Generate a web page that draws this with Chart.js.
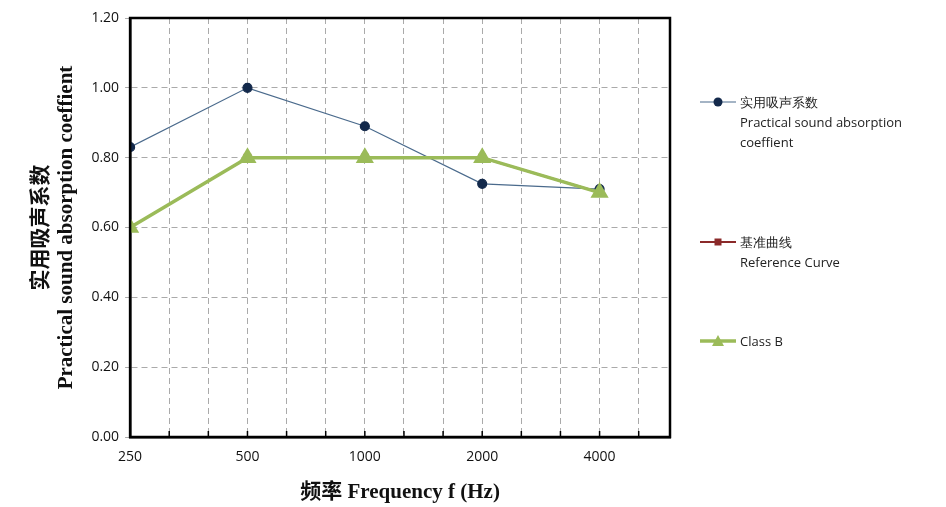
<!DOCTYPE html>
<html><head><meta charset="utf-8">
<script src="https://cdn.jsdelivr.net/npm/chart.js@4"></script>
<style>
body{margin:0;background:#fff;}
#wrap{position:relative;width:946px;height:507px;}
.leg{position:absolute;left:700px;font-family:"Open Sans","DejaVu Sans",sans-serif;font-size:13px;color:#222;line-height:20px;}
.leg .mk{position:absolute;left:0;top:3px;width:36px;height:14px;}
.leg .tx{margin-left:40px;}
</style></head><body>
<div id="wrap">
<canvas id="c" width="946" height="507"></canvas>
<div class="leg" style="top:92px"><canvas class="mk" id="m0" width="36" height="14"></canvas><div class="tx">实用吸声系数<br>Practical sound absorption<br>coeffient</div></div>
<div class="leg" style="top:232px"><canvas class="mk" id="m1" width="36" height="14"></canvas><div class="tx">基准曲线<br>Reference Curve</div></div>
<div class="leg" style="top:331px"><canvas class="mk" id="m2" width="36" height="14"></canvas><div class="tx">Class B</div></div>
</div>
<script>
const categories = ["250", "500", "1000", "2000", "4000"];
const practical = [0.83, 1.00, 0.89, 0.725, 0.71];
const reference = [0.60, 0.80, 0.80, 0.80, 0.70];
const classB = [0.60, 0.80, 0.80, 0.80, 0.70];

const toPts = arr => arr.map((v, i) => ({x: i, y: v}));

const ctx = document.getElementById("c").getContext("2d");
new Chart(ctx, {
  type: "line",
  data: {
    datasets: [
      {label: "实用吸声系数", data: toPts(practical), borderColor: "#4a6a8c", backgroundColor: "#13294b", order: 2,
       pointBackgroundColor: "#13294b", pointBorderColor: "#13294b", borderWidth: 1.2, pointRadius: 4.5, pointStyle: "circle"},
      {label: "基准曲线", data: toPts(reference), borderColor: "#8b2a2a", backgroundColor: "#8b2a2a", order: 3,
       borderWidth: 2, pointRadius: 4, pointStyle: "rect"},
      {label: "Class B", data: toPts(classB), borderColor: "#9bbb59", backgroundColor: "#9bbb59", order: 1,
       borderWidth: 3.5, pointRadius: 7, pointStyle: "triangle"}
    ]
  },
  options: {
    responsive: false,
    animation: false,
    layout: {padding: {left: 25, right: 276, top: 18, bottom: 2}},
    plugins: {legend: {display: false}, tooltip: {enabled: false}},
    scales: {
      x: {
        type: "linear", min: 0, max: 4.6,
        grid: {color: "#aaa", drawTicks: false},
        border: {display: true, color: "#000", width: 2.5, dash: [6, 4]},
        afterBuildTicks: axis => {
          const t = [];
          for (let k = 0; k <= 13; k++) t.push({value: k / 3});
          axis.ticks = t;
        },
        ticks: {
          padding: 12, color: "#111", font: {family: "Open Sans", size: 14},
          callback: v => {
            const i = Math.round(v);
            return Math.abs(v - i) < 1e-6 && categories[i] ? categories[i] : "";
          },
          autoSkip: false, maxRotation: 0
        },
        title: {display: true, text: "频率 Frequency f (Hz)", color: "#111",
          font: {family: "'Liberation Serif','Noto Sans CJK SC'", size: 21, weight: "bold"}, padding: {top: 2, bottom: 0}}
      },
      y: {
        min: 0, max: 1.2,
        grid: {color: "#aaa", drawTicks: true, tickLength: 5},
        border: {display: true, color: "#000", width: 2.5, dash: [6, 4]},
        ticks: {stepSize: 0.2, color: "#111", font: {family: "Open Sans", size: 14}, padding: 6,
          callback: v => v.toFixed(2)},
        title: {display: true, text: ["实用吸声系数", "Practical sound absorption coeffient"], color: "#111",
          font: {family: "'Liberation Serif','Noto Sans CJK SC'", size: 21, weight: "bold"}, padding: {bottom: 6}}
      }
    }
  },
  plugins: [{
    id: "frame",
    afterDatasetsDraw(chart) {
      const a = chart.chartArea, c = chart.ctx;
      c.save(); c.strokeStyle = "#000"; c.lineWidth = 2.5; c.setLineDash([]);
      c.strokeRect(a.left, a.top, a.right - a.left, a.bottom - a.top);
      // inner tick marks on x axis
      c.lineWidth = 1.5;
      chart.scales.x.ticks.forEach(t => {
        const px = chart.scales.x.getPixelForValue(t.value);
        c.beginPath(); c.moveTo(px, a.bottom); c.lineTo(px, a.bottom - 6); c.stroke();
      });
      c.restore();
    }
  }]
});

// legend swatches
function swatch(id, color, lw, style, fill) {
  const c = document.getElementById(id).getContext("2d");
  c.strokeStyle = color; c.lineWidth = lw;
  c.beginPath(); c.moveTo(0, 7); c.lineTo(36, 7); c.stroke();
  c.fillStyle = fill;
  c.beginPath();
  if (style === "circle") c.arc(18, 7, 4.5, 0, Math.PI * 2);
  else if (style === "rect") c.rect(14.5, 3.5, 7, 7);
  else { c.moveTo(18, 1); c.lineTo(24, 12); c.lineTo(12, 12); c.closePath(); }
  c.fill();
}
swatch("m0", "#4a6a8c", 1.2, "circle", "#13294b");
swatch("m1", "#8b2a2a", 2, "rect", "#8b2a2a");
swatch("m2", "#9bbb59", 3.5, "triangle", "#9bbb59");
</script>
</body></html>
